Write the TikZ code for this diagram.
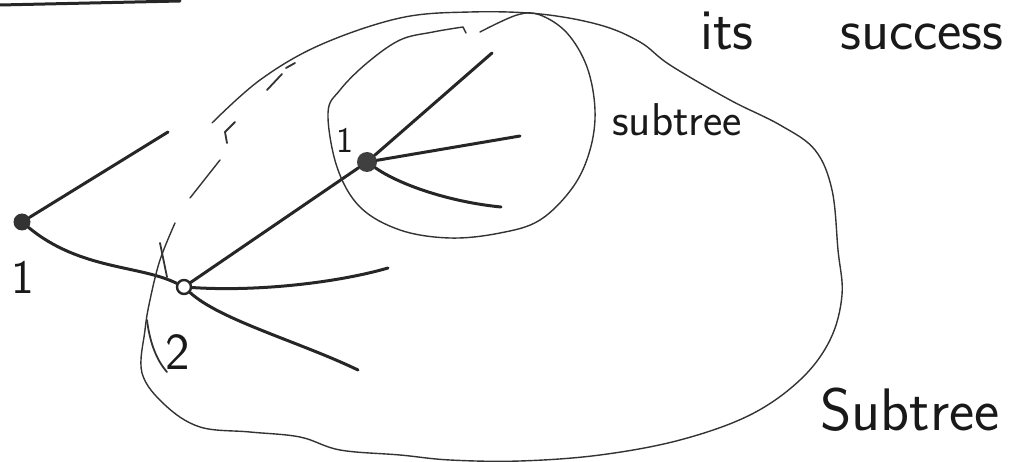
\documentclass[tikz,border=0pt]{standalone}
\usetikzlibrary{positioning}
\begin{document}
\begin{tikzpicture}[x=1pt, y=-1pt, line cap=round, line join=round,
    edge/.style={line width=3pt, black!85},
    rim/.style={line width=1.4pt, black!80},
    nib/.style={line width=1.8pt, black!80},
    hand/.style={font=\sffamily, inner sep=0pt, text=black!90},
    dot/.style={circle, inner sep=0pt}]
  \useasboundingbox (0,0) rectangle (1026,462);

  % Tree nodes
  \node[dot, fill=black!80, minimum size=17pt] (root) at (22,222) {};
  \node[dot, draw=black!85, line width=2.4pt, minimum size=14pt] (mid) at (184,287) {};
  \node[dot, fill=black!75, minimum size=20pt] (sub) at (367,162) {};

  % Free ends of the branches
  \coordinate (top) at (0,5);
  \coordinate (topend) at (180,1);
  \coordinate (rleaf) at (168,132);
  \coordinate (mleafa) at (388,268);
  \coordinate (mleafb) at (358,370);
  \coordinate (sleafa) at (492,53);
  \coordinate (sleafb) at (520,136);
  \coordinate (sleafc) at (501,207);

  % Branches
  \draw[edge] (top) -- (topend);
  \draw[edge] (root) -- (rleaf);
  \draw[edge] (root) .. controls (80,270) and (140,265) .. (mid);
  \draw[edge] (mid) -- (sub);
  \draw[edge] (mid) .. controls (260,292) and (340,282) .. (mleafa);
  \draw[edge] (mid) .. controls (220,320) and (300,342) .. (mleafb);
  \draw[edge] (sub) -- (sleafa);
  \draw[edge] (sub) -- (sleafb);
  \draw[edge] (sub) .. controls (400,185) and (450,202) .. (sleafc);

  % Small subtree outline
  \draw[rim] plot[smooth, tension=0.6] coordinates {(480,32) (517,15) (540,15) (567,33)
    (587,67) (595,110) (590,150) (573,187) (540,220) (500,233) (450,238) (400,230)
    (360,207) (337,167) (328,113) (340,90) (367,63) (400,40) (433,32) (463,27)}
    -- (466,33);

  % Big subtree outline
  \draw[rim] plot[smooth, tension=0.6] coordinates {(212,123) (260,80) (320,45) (400,18)
    (470,12) (540,14) (600,25) (640,42) (670,65) (730,100) (780,125) (815,150)
    (832,190) (838,250) (842,295) (830,340) (800,380) (750,415) (680,440) (600,455)
    (520,461) (450,460) (400,455) (340,450) (300,437) (250,432) (200,427) (165,405)
    (142,373) (145,330) (150,300) (160,260) (175,223)};

  % Broken strokes along the left side
  \draw[rim] (190,198) -- (220,160);
  \draw[nib] (235,122) -- (225,132) -- (227,143);
  \draw[nib] (267,90) -- (282,74);
  \draw[nib] (286,68) -- (295,63);
  \draw[nib] (160,243) -- (167,277);
  \draw[nib] (147,320) .. controls (150,345) and (158,362) .. (167,372);

  % Labels
  \node[hand, font=\sffamily\fontsize{48}{50}\selectfont] (rootlbl) at (23,277) {1};
  \node[hand, font=\sffamily\fontsize{52}{54}\selectfont] (midlbl) at (178,352) {2};
  \node[hand, font=\sffamily\fontsize{36}{40}\selectfont] (sublbl) at (345,140) {1};
  \node[hand, anchor=base west, font=\sffamily\fontsize{58}{64}\selectfont] (its) at (700,50) {its};
  \node[hand, anchor=base west, font=\sffamily\fontsize{58}{64}\selectfont] (succ) at (840,50) {success};
  \node[hand, anchor=base west, font=\sffamily\fontsize{46}{50}\selectfont] (small) at (612,136) {subtree};
  \node[hand, anchor=base west, font=\sffamily\fontsize{60}{66}\selectfont] (big) at (820,430) {Subtree};
\end{tikzpicture}
\end{document}
